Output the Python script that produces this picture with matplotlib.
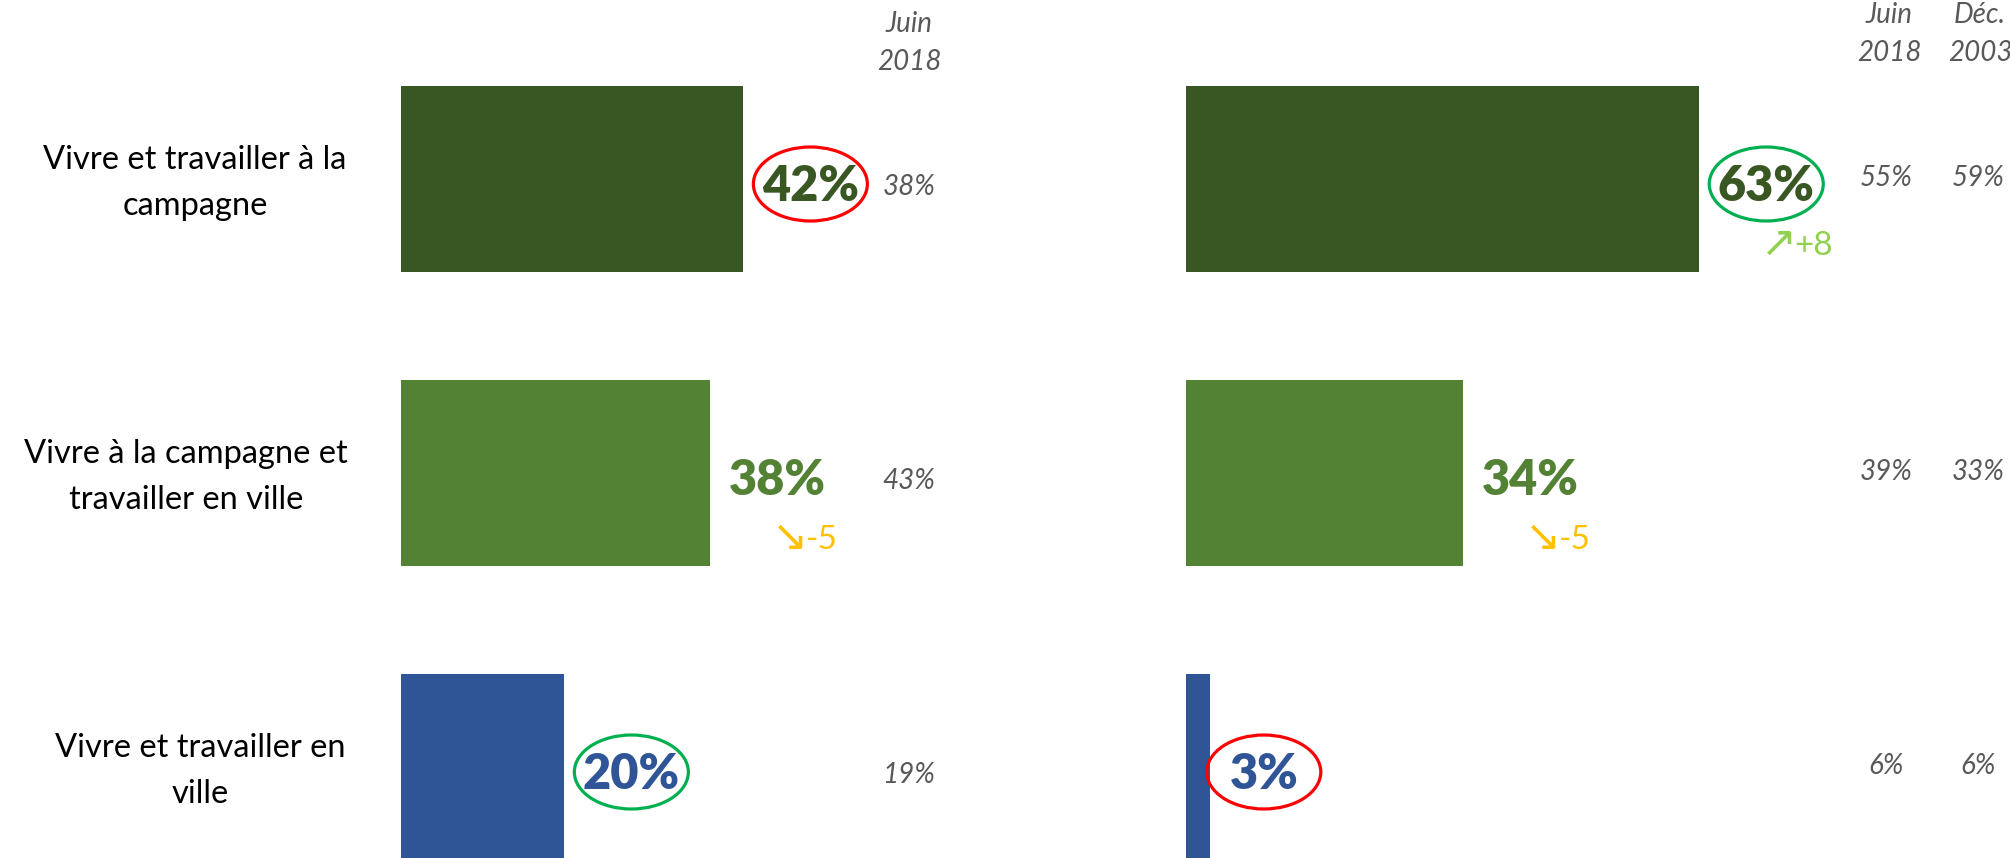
import matplotlib
matplotlib.use("Agg")
import matplotlib.pyplot as plt
from matplotlib.patches import Ellipse
from matplotlib.transforms import blended_transform_factory

# ---------------- data ----------------
categories = ["Vivre et travailler à la\ncampagne",
              "Vivre à la campagne et\ntravailler en ville",
              "Vivre et travailler en\nville"]
bar_colors = ["#385723", "#548235", "#2F5597"]

left_values = [42, 38, 20]
left_prev_2018 = [38, 43, 19]
left_circle = ["#FF0000", None, "#00B050"]
left_delta = [None, -5, None]

right_values = [63, 34, 3]
right_prev_2018 = [55, 39, 6]
right_prev_2003 = [59, 33, 6]
right_circle = ["#00B050", None, "#FF0000"]
right_delta = [8, -5, None]

header_2018 = "Juin\n2018"
header_2003 = "Déc.\n2003"

# ---------------- figure ----------------
W, H = 2010, 858
DPI = 100
fig = plt.figure(figsize=(W / DPI, H / DPI), dpi=DPI)
FONT = ["Lato", "DejaVu Sans"]
plt.rcParams["font.family"] = FONT

PX_PER_PCT = 8.14
ROW_PX = 294.0
ROW0_PX = 179.0
BAR_H = 186.0 / ROW_PX
ylim = ((H - ROW0_PX) / ROW_PX, -ROW0_PX / ROW_PX)

def make_ax(left_px, right_px):
    ax = fig.add_axes([left_px / W, 0, (right_px - left_px) / W, 1])
    ax.set_xlim(0, (right_px - left_px) / PX_PER_PCT)
    ax.set_ylim(*ylim)
    ax.axis("off")
    return ax

axL = make_ax(401, 1100)
axR = make_ax(1186, 2010)

GRAY = "#595959"
PT = 72.0 / DPI  # points per pixel
rows = list(range(len(categories)))

circle_jobs = []

def draw_panel(ax, values, circles, deltas):
    ax.barh(rows, values, height=BAR_H, color=bar_colors, edgecolor="none")
    for i, v in enumerate(values):
        t = ax.annotate(f"{v}%", xy=(v, i), xytext=(19 * PT, -3 * PT),
                        textcoords="offset points", ha="left", va="center_baseline",
                        fontsize=35, fontweight="heavy", color=bar_colors[i])
        if circles[i]:
            circle_jobs.append((t, circles[i]))
        d = deltas[i]
        if d is not None:
            arrow = "↗" if d > 0 else "↘"
            col = "#92D050" if d > 0 else "#FFC000"
            label = f"{d:+d}" if d > 0 else f"{d:d}"
            ax.annotate(arrow, xy=(v, i), xytext=(62 * PT, -60 * PT),
                        textcoords="offset points", ha="left", va="center_baseline",
                        fontsize=31, color=col, family="DejaVu Sans")
            ax.annotate(label, xy=(v, i), xytext=(96 * PT, -64 * PT),
                        textcoords="offset points", ha="left", va="center_baseline",
                        fontsize=24, color=col)

draw_panel(axL, left_values, left_circle, left_delta)
draw_panel(axR, right_values, right_circle, right_delta)

# category labels
trL = blended_transform_factory(fig.transFigure, axL.transData)
cat_x = [195, 186, 200]
for i, c in enumerate(categories):
    axL.text(cat_x[i] / W, i + 4 / ROW_PX, c, transform=trL, ha="center", va="center",
             fontsize=23.5, color="black", linespacing=1.7)

# previous-wave values
def prev_col(ax, x_px, vals, dy_px):
    tr = blended_transform_factory(fig.transFigure, ax.transData)
    for i, v in enumerate(vals):
        ax.text(x_px / W, i + dy_px / ROW_PX, f"{v}%", transform=tr, ha="center",
                va="center", fontsize=20, style="italic", color=GRAY)

prev_col(axL, 909, left_prev_2018, 8)
prev_col(axR, 1886, right_prev_2018, -1)
prev_col(axR, 1978, right_prev_2003, -1)

# headers
fig.text(909 / W, 1 - 43 / H, header_2018, ha="center", va="center", fontsize=20,
         style="italic", color=GRAY, linespacing=1.55)
fig.text(1889 / W, 1 - 34 / H, header_2018, ha="center", va="center", fontsize=20,
         style="italic", color=GRAY, linespacing=1.55)
fig.text(1980 / W, 1 - 34 / H, header_2003, ha="center", va="center", fontsize=20,
         style="italic", color=GRAY, linespacing=1.55)

# ellipses around highlighted values
fig.canvas.draw()
for t, col in circle_jobs:
    bb = t.get_window_extent()
    cx = (bb.x0 + bb.x1) / 2
    cy = (bb.y0 + bb.y1) / 2 + 2
    e = Ellipse((cx / W, cy / H), 114 / W, 74 / H, transform=fig.transFigure,
                fill=False, edgecolor=col, linewidth=2.3)
    fig.add_artist(e)

fig.savefig("out.png", dpi=DPI, facecolor="white")
